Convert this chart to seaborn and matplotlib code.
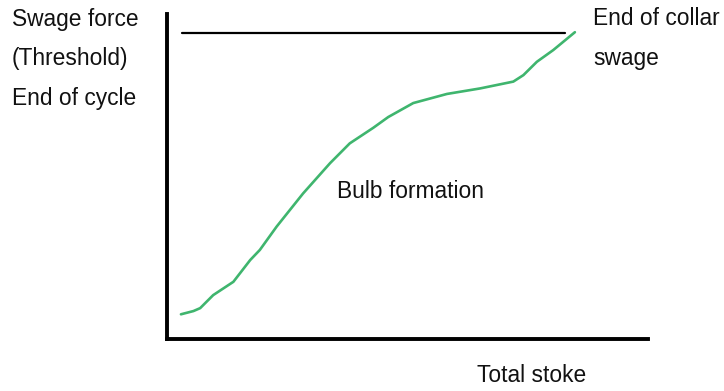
import matplotlib
matplotlib.use("Agg")
import matplotlib.pyplot as plt
import seaborn as sns
import pandas as pd

# Swage force vs. stroke curve (arbitrary units, 0-100 on both axes)
stroke = [2.9, 5.5, 6.9, 9.6, 13.8, 17.3, 19.3, 22.8, 28.3, 33.9, 38.0,
          42.9, 46.0, 51.2, 58.2, 65.1, 72.0, 74.1, 76.9, 80.3, 84.8]
force = [7.6, 8.6, 9.5, 13.5, 17.6, 24.3, 27.4, 34.6, 44.8, 54.1, 60.2,
         65.0, 68.3, 72.6, 75.4, 77.1, 79.2, 81.2, 85.3, 88.9, 94.4]

# Threshold level (end of cycle)
threshold_x = [3.1, 82.7]
threshold_y = [94.2, 94.2]

left_labels = ["Swage force", "(Threshold)", "End of cycle"]
right_labels = ["End of collar", "swage"]
curve_label = "Bulb formation"
x_label = "Total stoke"

sns.set_style("white")
plt.rcParams["font.family"] = ["Liberation Sans", "DejaVu Sans"]

W, H = 724, 391
fig = plt.figure(figsize=(W / 100, H / 100), dpi=100)
ax = fig.add_axes([167 / W, (H - 339) / H, 481 / W, 325 / H])

df = pd.DataFrame({"stroke": stroke, "force": force})
sns.lineplot(data=df, x="stroke", y="force", ax=ax, color="#3fb56e",
             linewidth=1.9, sort=False)
sns.lineplot(x=threshold_x, y=threshold_y, ax=ax, color="black",
             linewidth=1.6)

ax.set_xlim(0, 100)
ax.set_ylim(0, 100)
ax.set_xticks([])
ax.set_yticks([])
ax.set_xlabel("")
ax.set_ylabel("")
sns.despine(ax=ax)
for side in ("left", "bottom"):
    ax.spines[side].set_color("black")
    ax.spines[side].set_linewidth(2.8)


def put(text, px, py_baseline):
    fig.text(px / W, 1 - py_baseline / H, text, fontsize=16.4,
             color="#111111", ha="left", va="baseline")


for i, t in enumerate(left_labels):
    put(t, 12, 26 + 39.5 * i)
for i, t in enumerate(right_labels):
    put(t, 593, 25 + 40 * i)
put(curve_label, 337, 198)
put(x_label, 477, 382)

fig.savefig("out.png", dpi=100)
